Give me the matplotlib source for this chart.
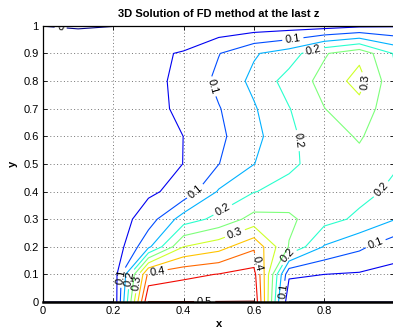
import numpy as np
import matplotlib.pyplot as plt
from matplotlib.ticker import FormatStrFormatter

# grid of the FD solution (11 x 11 nodes)
x = np.linspace(0, 1, 11)
y = np.linspace(0, 1, 11)

# u(x, y) on the last z plane, one row per y value (y = 0 ... 1)
u = np.array([
    [0.0,     0.0,    0.0,     0.501, 0.501,  0.501,  0.501, 0.0,    0.0,   0.0,   0.0],
    [0.003,   0.005,  0.007,   0.414, 0.4375, 0.452,  0.47,  0.06,   0.05,  0.045, 0.038],
    [0.006,   0.01,   0.012,   0.139, 0.30,   0.33,   0.39,  0.247,  0.146, 0.11,  0.068],
    [0.008,   0.014,  0.02,    0.075, 0.175,  0.215,  0.268, 0.26,   0.218, 0.19,  0.152],
    [0.009,   0.017,  0.025,   0.042, 0.066,  0.155,  0.198, 0.218,  0.22,  0.215, 0.19],
    [0.01,    0.019,  0.028,   0.032, 0.0505, 0.099,  0.149, 0.19,   0.222, 0.235, 0.205],
    [0.01,    0.02,   0.03,    0.035, 0.0502, 0.0896, 0.135, 0.19,   0.228, 0.255, 0.215],
    [0.01,    0.02,   0.03,    0.038, 0.058,  0.097,  0.145, 0.198,  0.249, 0.28,  0.215],
    [0.009,   0.019,  0.029,   0.042, 0.057,  0.114,  0.162, 0.2205, 0.265, 0.32,  0.21],
    [0.007,   0.016,  0.026,   0.04,  0.054,  0.098,  0.145, 0.175,  0.245, 0.285, 0.195],
    [-0.0001, -0.002, -0.0006, 0.004, 0.01,   0.015,  0.02,  0.025,  0.028, 0.04,  0.045],
])

levels = np.round(np.arange(0, 0.55, 0.05), 2)
label_levels = levels[::2]     # 0, 0.1, ..., 0.5 carry text
plain_levels = levels[1::2]    # 0.05, 0.15, ... drawn without text

# where the level labels sit
label_pos = [
    (0.05, 0.99),
    (0.71, 0.96), (0.48, 0.78), (0.437, 0.394), (0.224, 0.09), (0.676, 0.04), (0.95, 0.2),
    (0.77, 0.913), (0.73, 0.585), (0.513, 0.33), (0.245, 0.085), (0.7, 0.165), (0.96, 0.41),
    (0.91, 0.8), (0.546, 0.248), (0.268, 0.07),
    (0.325, 0.11), (0.612, 0.14),
    (0.46, 0.003),
]

plt.rcParams['font.family'] = ['Liberation Sans', 'DejaVu Sans']

fig = plt.figure(figsize=(3.93, 3.30), dpi=100)
ax = fig.add_axes([0.1094, 0.0848, 0.8944, 0.837])

X, Y = np.meshgrid(x, y)
ax.contour(X, Y, u, levels=plain_levels, cmap='jet', vmin=0, vmax=0.5, linewidths=0.8)
cs = ax.contour(X, Y, u, levels=label_levels, cmap='jet', vmin=0, vmax=0.5, linewidths=0.8)
ax.clabel(cs, manual=label_pos, inline=True, fmt='%g',
          fontsize=8, colors='k', inline_spacing=3)

ax.set_xlim(0, 1)
ax.set_ylim(0, 1)
ax.set_xticks([0, 0.2, 0.4, 0.6, 0.8])
ax.set_yticks(np.round(np.arange(0, 1.01, 0.1), 1))
ax.xaxis.set_major_formatter(FormatStrFormatter('%g'))
ax.yaxis.set_major_formatter(FormatStrFormatter('%g'))
ax.tick_params(direction='in', top=True, right=True, length=3, width=0.6,
               labelsize=8, pad=3)
ax.grid(True, linestyle=(0, (1, 2.5)), color='0.45', linewidth=0.7)
for s in ax.spines.values():
    s.set_linewidth(0.9)
ax.spines['bottom'].set_linewidth(1.8)

ax.set_title('3D Solution of FD method at the last z', fontsize=8, fontweight='bold', pad=6)
ax.set_xlabel('x', fontsize=8, fontweight='bold', labelpad=2)
ax.set_ylabel('y', fontsize=8, fontweight='bold', labelpad=4)

fig.savefig('out.png', dpi=100)
